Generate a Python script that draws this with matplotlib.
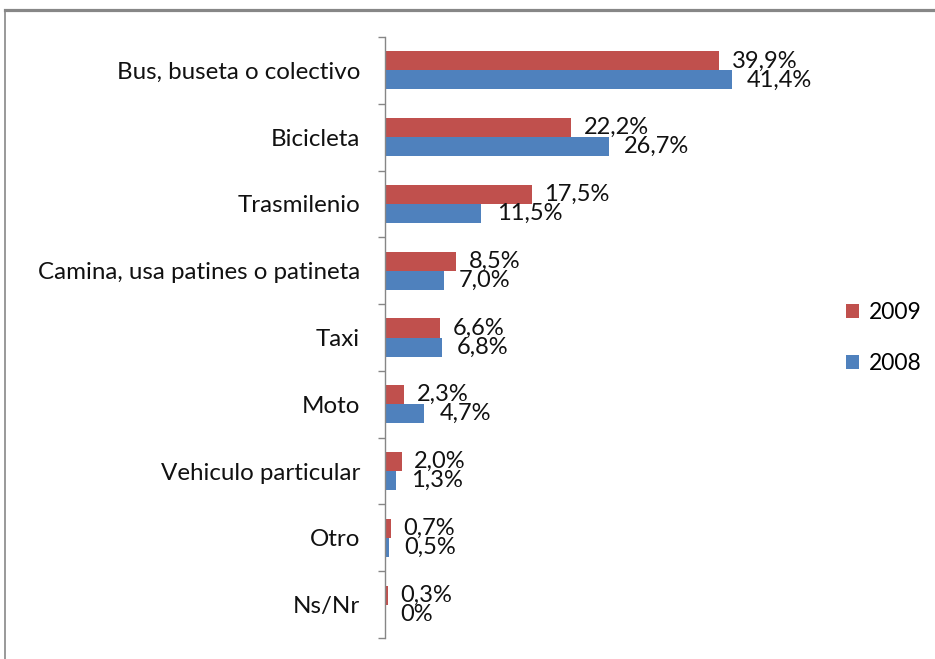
import matplotlib
matplotlib.use("Agg")
import matplotlib.pyplot as plt
from matplotlib.lines import Line2D
import numpy as np

categories = ["Bus, buseta o colectivo", "Bicicleta", "Trasmilenio",
              "Camina, usa patines o patineta", "Taxi", "Moto",
              "Vehiculo particular", "Otro", "Ns/Nr"]
v2009 = [39.9, 22.2, 17.5, 8.5, 6.6, 2.3, 2.0, 0.7, 0.3]
v2008 = [41.4, 26.7, 11.5, 7.0, 6.8, 4.7, 1.3, 0.5, 0.0]
series_names = ["2009", "2008"]

RED = "#C0504D"
BLUE = "#4F81BD"
GRAY = "#868686"

plt.rcParams['font.family'] = ['Lato', 'DejaVu Sans']
FS = 17

W, H = 935, 659
fig = plt.figure(figsize=(W / 100, H / 100), dpi=100)
left, right, top, bottom = 385, 762, 37, 638
ax = fig.add_axes([left / W, 1 - bottom / H, (right - left) / W, (bottom - top) / H])

y = np.arange(len(categories))
h = 0.285
b1 = ax.barh(y - h / 2, v2009, height=h, color=RED, label=series_names[0])
b2 = ax.barh(y + h / 2, v2008, height=h, color=BLUE, label=series_names[1])

def fmt(v):
    if v == 0:
        return "0%"
    return f"{v:.1f}".replace(".", ",") + "%"

for yy, v in zip(y - h / 2, v2009):
    ax.annotate(fmt(v), (v, yy), xytext=(9, 0), textcoords="offset points",
                ha="left", va="center", fontsize=FS, color="#111111")
for yy, v in zip(y + h / 2, v2008):
    ax.annotate(fmt(v), (v, yy), xytext=(11, 0), textcoords="offset points",
                ha="left", va="center", fontsize=FS, color="#111111")

ax.set_xlim(0, 45)
ax.set_ylim(len(categories) - 0.5, -0.5)
ax.set_yticks(y)
ax.set_yticklabels(categories, fontsize=17.4, color="#111111")
ax.set_yticks(np.arange(-0.5, len(categories), 1.0), minor=True)
ax.tick_params(axis='y', which='major', length=0, pad=18)
ax.tick_params(axis='y', which='minor', length=5, width=1, color=GRAY, direction='out')
ax.set_xticks([])
for s in ["top", "right", "bottom"]:
    ax.spines[s].set_visible(False)
ax.spines["left"].set_color(GRAY)
ax.spines["left"].set_linewidth(1)

leg = ax.legend(handles=[b1, b2], loc="center left",
                bbox_to_anchor=(825 / W, 1 - 338 / H), bbox_transform=fig.transFigure,
                frameon=False, fontsize=16.5, handlelength=0.6, handleheight=0.6,
                handletextpad=0.4, labelspacing=1.3)

# outer frame of the chart
fig.add_artist(Line2D([5 / W, 1.0], [1 - 9.5 / H, 1 - 9.5 / H], transform=fig.transFigure,
                      color="#878787", lw=2.3))
fig.add_artist(Line2D([5 / W, 5 / W], [0, 1 - 9.5 / H], transform=fig.transFigure,
                      color="#878787", lw=1.2))

fig.savefig("out.png", dpi=100)
